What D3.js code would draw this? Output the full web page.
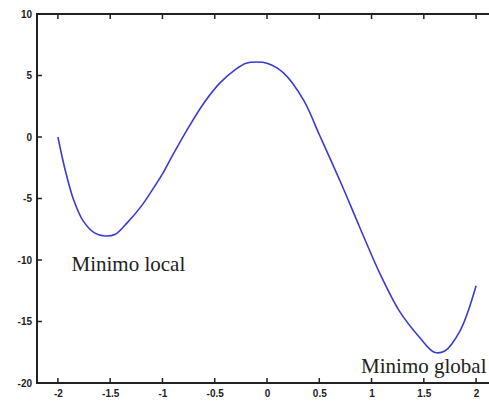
<!DOCTYPE html>
<html>
<head>
<meta charset="utf-8">
<script src="https://cdn.jsdelivr.net/npm/d3@7"></script>
<style>
	body { margin: 0; background: #fff; }
	svg { display: block; }
	.tick text { font-family: "Liberation Sans", Arial, sans-serif; font-weight: bold; font-size: 10px; fill: #222; }
</style>
</head>
<body>
<svg></svg>
<script>
// curve points
const xs = [-2.0, -1.93, -1.85, -1.76, -1.65, -1.55, -1.45, -1.34, -1.2, -1.12, -1.0, -0.91, -0.77, -0.6, -0.45, -0.3, -0.2, -0.1, 0.0, 0.16, 0.35, 0.5, 0.7, 0.85, 0.95, 1.08, 1.27, 1.46, 1.6, 1.7, 1.85, 2.0];
const ys = [0, -2.7, -5.1, -6.8, -7.8, -8.05, -7.9, -7.0, -5.6, -4.6, -3.0, -1.6, 0.5, 2.8, 4.4, 5.5, 6.0, 6.1, 6.0, 5.2, 3.0, 0.2, -3.6, -6.6, -8.6, -11.1, -14.2, -16.3, -17.5, -17.4, -15.7, -12.1];
const xTicks = [-2, -1.5, -1, -0.5, 0, 0.5, 1, 1.5, 2];
const yTicks = [-20, -15, -10, -5, 0, 5, 10];
const labels = [
	{text: "Minimo local", x: -1.87, y: -10.9},
	{text: "Minimo global", x: 0.9, y: -19.2}
];

const width = 489, height = 401;
const svg = d3.select('svg').attr('width', width).attr('height', height);

const x = d3.scaleLinear().domain([-2.2, 2.2]).range([37, 497]);
const y = d3.scaleLinear().domain([-20, 10]).range([383, 14]);

const fmt = d => String(d);
const ink = '#222';

// frame as filled strips: left, top, bottom (right edge is outside the picture)
const x0 = x(-2.2), x1 = x(2.2), yt = y(10), yb = y(-20);
svg.append('rect').attr('x', x0 - 1).attr('y', yt - 1).attr('width', 2).attr('height', yb - yt + 2).attr('fill', ink);
svg.append('rect').attr('x', x0 - 1).attr('y', yt - 1).attr('width', x1 - x0).attr('height', 2).attr('fill', ink);
svg.append('rect').attr('x', x0 - 1).attr('y', yb - 1).attr('width', x1 - x0).attr('height', 2).attr('fill', ink);

// inward tick marks
svg.selectAll('rect.xb')
	.data(xTicks)
	.join('rect')
		.attr('class', 'xb')
		.attr('x', d => x(d) - 0.75).attr('y', yb - 5).attr('width', 1.5).attr('height', 5)
		.attr('fill', ink);
svg.selectAll('rect.xt')
	.data(xTicks)
	.join('rect')
		.attr('class', 'xt')
		.attr('x', d => x(d) - 0.75).attr('y', yt).attr('width', 1.5).attr('height', 5)
		.attr('fill', ink);
svg.selectAll('rect.yl')
	.data(yTicks)
	.join('rect')
		.attr('class', 'yl')
		.attr('x', x0).attr('y', d => y(d) - 0.75).attr('width', 5).attr('height', 1.5)
		.attr('fill', ink);

svg.append('g')
	.attr('transform', `translate(0,${yb})`)
	.call(d3.axisBottom(x).tickValues(xTicks).tickFormat(fmt).tickSize(0).tickPadding(7))
	.call(g => g.select('.domain').remove());

svg.append('g')
	.attr('transform', `translate(${x0},0)`)
	.call(d3.axisLeft(y).tickValues(yTicks).tickFormat(fmt).tickSize(0).tickPadding(5))
	.call(g => g.select('.domain').remove());

const pts = xs.map((v, i) => [v, ys[i]]);
svg.append('path')
	.datum(pts)
	.attr('fill', 'none')
	.attr('stroke', '#3b3bd6')
	.attr('stroke-width', 1.6)
	.attr('d', d3.line().x(d => x(d[0])).y(d => y(d[1])).curve(d3.curveCatmullRom));

svg.selectAll('text.lbl')
	.data(labels)
	.join('text')
		.attr('class', 'lbl')
		.attr('x', d => x(d.x))
		.attr('y', d => y(d.y))
		.attr('font-family', '"Liberation Serif", "DejaVu Serif", serif')
		.attr('font-size', 21)
		.attr('fill', ink)
		.text(d => d.text);
</script>
</body>
</html>
